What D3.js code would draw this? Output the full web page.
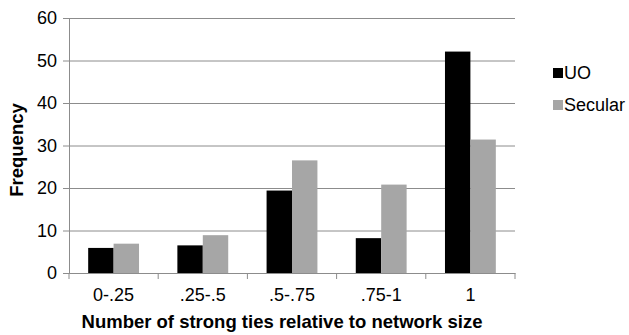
<!DOCTYPE html>
<html>
<head>
<meta charset="utf-8">
<script src="https://cdn.jsdelivr.net/npm/d3@7"></script>
<style>
  body { margin: 0; background: #fff; }
  svg text { font-family: "Liberation Sans", Arial, sans-serif; fill: #000; }
</style>
</head>
<body>
<svg></svg>
<script>
// Chart data
const categories = ["0-.25", ".25-.5", ".5-.75", ".75-1", "1"];
const seriesNames = ["UO", "Secular"];
const uoValues = [5.9, 6.5, 19.4, 8.2, 52.1];
const secularValues = [6.9, 8.9, 26.5, 20.8, 31.4];
const yTicks = [0, 10, 20, 30, 40, 50, 60];
const colors = ["#000000", "#a6a6a6"];

const svgWidth = 629, svgHeight = 335;
const plot = { left: 69, right: 515, top: 18, bottom: 273 };

const svg = d3.select("svg")
    .attr("width", svgWidth)
    .attr("height", svgHeight);

// Scales
const xScale = d3.scaleBand().domain(categories).range([plot.left, plot.right]);
const xInner = d3.scaleBand().domain(seriesNames)
    .range([xScale.bandwidth() * 0.215, xScale.bandwidth() * 0.785]);
const yScale = d3.scaleLinear().domain([0, 60]).range([plot.bottom, plot.top]);

// Gridlines + y axis (ticks stick out to the left)
const yAxis = svg.append("g")
    .attr("transform", `translate(${plot.left},0)`)
    .call(d3.axisLeft(yScale).tickValues(yTicks).tickSize(6).tickPadding(6).tickSizeOuter(0));
yAxis.select(".domain").attr("stroke", "#8c8c8c");
yAxis.selectAll(".tick line").attr("stroke", "#8c8c8c");
yAxis.selectAll(".tick text").style("font-size", "18px").attr("fill", "#000");
yAxis.selectAll(".tick").append("line")
    .attr("x1", 0).attr("x2", plot.right - plot.left)
    .attr("stroke", "#8c8c8c");

// x axis
const xAxis = svg.append("g")
    .attr("transform", `translate(0,${plot.bottom})`)
    .call(d3.axisBottom(xScale).tickSize(0).tickPadding(15));
xAxis.select(".domain").attr("stroke", "#8c8c8c");
xAxis.selectAll(".tick text").style("font-size", "18px").attr("fill", "#000");
// tick marks at category boundaries
svg.append("g").selectAll("line")
    .data(categories.concat(["end"]))
    .enter().append("line")
    .attr("x1", (d, i) => plot.left + i * xScale.step())
    .attr("x2", (d, i) => plot.left + i * xScale.step())
    .attr("y1", plot.bottom)
    .attr("y2", plot.bottom + 6)
    .attr("stroke", "#8c8c8c");

// Bars
const rows = categories.map((c, i) => ({ cat: c, values: [uoValues[i], secularValues[i]] }));
const groups = svg.append("g").selectAll("g")
    .data(rows)
    .enter().append("g")
    .attr("transform", d => `translate(${xScale(d.cat)},0)`);
groups.selectAll("rect")
    .data(d => d.values.map((v, j) => ({ name: seriesNames[j], value: v, color: colors[j] })))
    .enter().append("rect")
    .attr("x", d => xInner(d.name))
    .attr("width", xInner.bandwidth())
    .attr("y", d => yScale(d.value))
    .attr("height", d => plot.bottom - yScale(d.value))
    .attr("fill", d => d.color);

// Axis titles
svg.append("text")
    .attr("x", 282)
    .attr("y", 328)
    .attr("text-anchor", "middle")
    .style("font-size", "18.5px")
    .style("font-weight", "bold")
    .text("Number of strong ties relative to network size");

svg.append("text")
    .attr("transform", "rotate(-90)")
    .attr("x", -150)
    .attr("y", 23)
    .attr("text-anchor", "middle")
    .style("font-size", "18.5px")
    .style("font-weight", "bold")
    .text("Frequency");

// Legend
const legend = svg.append("g").selectAll("g")
    .data(seriesNames)
    .enter().append("g")
    .attr("transform", (d, i) => `translate(553,${68 + i * 32})`);
legend.append("rect")
    .attr("width", 10).attr("height", 10)
    .attr("fill", (d, i) => colors[i]);
legend.append("text")
    .attr("x", 11)
    .attr("y", 10.5)
    .style("font-size", "18px")
    .text(d => d);
</script>
</body>
</html>
